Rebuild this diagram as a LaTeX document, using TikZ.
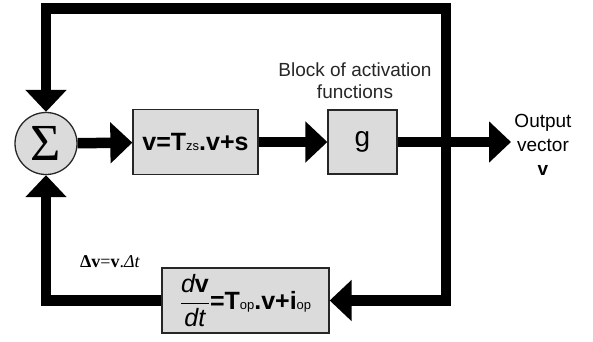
\documentclass[tikz,border=0pt]{standalone}
\usepackage{fontspec}
\setmainfont{Liberation Sans}
\newfontfamily\tnr{Liberation Serif}
\usetikzlibrary{arrows.meta}
\begin{document}
\begin{tikzpicture}[x=1pt,y=-1pt,
  box/.style={draw=black!85, line width=1.3pt, fill=black!14, inner sep=0pt},
  arr/.style={line width=10.5pt, -{Triangle[length=22pt,width=40pt]}},
  lbl/.style={align=center, inner sep=0pt}]
\useasboundingbox (0,0) rectangle (593,341);
\node[box, circle, minimum size=62pt] (sum) at (46,143.5) {\tnr\fontsize{52}{52}\selectfont Σ};
\node[box, minimum width=125pt, minimum height=65pt] (main) at (195.5,142)
  {\fontsize{25}{25}\selectfont\bfseries v=T{\mdseries\fontsize{13}{13}\selectfont zs}.v+s};
\node[box, minimum width=69pt, minimum height=64pt] (g) at (362.5,142)
  {\fontsize{28}{28}\selectfont g};
\node[box, minimum width=167pt, minimum height=65pt] (dbox) at (245.5,300.5)
  {\fontsize{25}{25}\selectfont $\displaystyle\frac{\hbox{\itshape d\upshape\bfseries v}}{\hbox{\itshape dt}}$\bfseries =T{\mdseries\fontsize{13}{13}\selectfont op}.v+i{\mdseries\fontsize{13}{13}\selectfont op}};
\coordinate (out) at (511,142);
\coordinate (jc) at (446,142);
\coordinate (top) at (446,8.5);
\node[lbl, text=black!85, font=\fontsize{19}{22}\selectfont] (blk) at (355,81) {Block of activation\\functions};
\node[lbl, font=\fontsize{19}{24}\selectfont] (outl) at (543,145) {Output\\vector\\\textbf{v}};
\node[lbl, font=\tnr\fontsize{18}{18}\selectfont] (dl) at (110,262) {\textbf{Δv}=\textbf{v}.\textit{Δt}};
\draw[arr] (sum) -- (main);
\draw[arr] (main) -- (g);
\draw[arr] (g) -- (out);
\draw[arr] (jc) -- (top) -| (sum.north);
\draw[arr] (jc) |- (dbox.east);
\draw[arr] (dbox.west) -| (sum.south);
\end{tikzpicture}
\end{document}
